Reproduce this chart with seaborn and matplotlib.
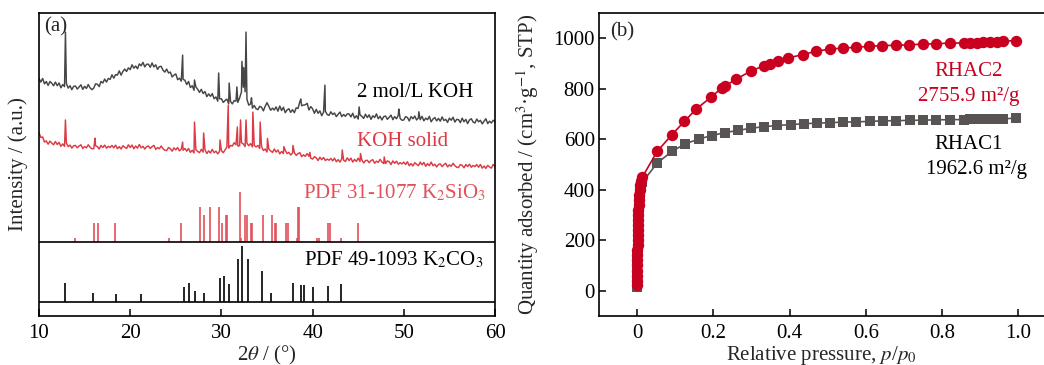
import numpy as np
import matplotlib
matplotlib.use("Agg")
import matplotlib.pyplot as plt
import seaborn as sns

# ---------------- (a) XRD patterns ----------------
two_theta = np.round(np.arange(10.0, 60.01, 0.2), 1)

# 2 mol/L KOH activated sample, background-subtracted intensity (a.u.)
koh_2m = [
    18.4, 17.2, 18.4, 16.6, 17.4, 16.1, 17.4, 16.8, 16.0, 17.2,
    16.0, 16.9, 15.3, 16.4, 15.7, 16.8, 15.2, 16.0, 14.7, 15.8,
    15.9, 14.9, 15.6, 16.3, 14.8, 15.8, 15.1, 16.4, 15.3, 14.7,
    15.2, 16.6, 16.5, 15.7, 17.4, 16.9, 18.2, 17.2, 18.4, 18.1,
    19.6, 18.5, 19.7, 19.5, 20.9, 19.5, 20.7, 21.5, 20.7, 21.9,
    21.3, 22.9, 21.8, 22.5, 21.6, 23.2, 22.6, 23.7, 22.2, 23.1,
    23.1, 22.1, 23.5, 22.2, 22.9, 21.4, 22.3, 22.4, 21.1, 20.5,
    21.5, 20.2, 20.5, 18.9, 19.5, 19.9, 18.0, 18.5, 17.5, 18.1,
    17.8, 16.4, 17.4, 15.4, 16.0, 14.5, 15.6, 14.8, 13.8, 14.8,
    13.4, 14.1, 12.4, 13.3, 12.5, 13.4, 11.7, 12.3, 10.9, 11.7,
    11.7, 10.5, 11.1, 11.6, 10.0, 10.8, 10.0, 11.1, 10.9, 10.5,
    12.0, 14.0, 15.5, 14.0, 11.5, 9.6, 10.0, 8.6, 9.5, 8.4,
    8.1, 9.2, 8.9, 7.7, 9.2, 10.4, 9.2, 7.9, 8.6, 8.0,
    9.0, 7.6, 9.3, 7.8, 8.9, 7.1, 8.0, 8.4, 7.2, 8.1,
    7.1, 8.7, 8.5, 10.7, 9.4, 9.6, 9.7, 10.2, 8.0, 9.1,
    8.4, 6.9, 8.2, 6.9, 7.7, 6.1, 7.2, 7.6, 6.5, 6.2,
    7.4, 6.5, 7.0, 5.8, 6.6, 7.3, 5.8, 6.5, 5.9, 6.7,
    6.7, 5.7, 6.9, 5.3, 6.1, 5.0, 6.4, 5.9, 5.2, 6.6,
    5.5, 6.4, 4.9, 6.1, 5.5, 6.7, 5.1, 5.9, 4.7, 5.8,
    6.0, 4.9, 5.6, 6.3, 4.8, 5.8, 5.1, 6.3, 5.2, 4.6,
    4.7, 5.8, 5.5, 4.4, 5.8, 5.1, 6.0, 4.7, 5.4, 4.8,
    5.9, 4.4, 5.3, 4.8, 5.9, 4.1, 5.0, 5.5, 4.4, 5.2,
    4.3, 5.7, 4.5, 4.9, 3.9, 5.3, 4.6, 5.6, 4.0, 4.9,
    4.8, 3.8, 5.3, 4.1, 4.9, 3.5, 4.7, 5.1, 4.0, 3.7,
    5.0, 4.1, 4.6, 3.4, 4.3, 5.1, 3.5, 4.3, 3.7, 4.6,
    4.1,
]
koh_2m_peak_pos = [12.9, 25.75, 27.05, 29.7, 30.85, 31.7, 32.25, 32.45, 32.7,
                   33.3, 38.7, 41.35, 45.1, 49.45, 51.65]
koh_2m_peak_int = [33.7, 26.1, 17.9, 20.2, 16.9, 15.6, 24.0, 22.0, 33.7,
                   12.0, 11.6, 16.2, 9.0, 8.3, 7.4]

# KOH solid activated sample
koh_solid = [
    15.5, 13.9, 14.1, 12.4, 12.8, 11.7, 12.7, 12.1, 11.5, 12.6,
    11.6, 12.3, 11.0, 11.8, 11.0, 12.1, 10.9, 11.4, 10.4, 11.2,
    11.3, 10.5, 11.1, 11.5, 10.3, 10.9, 10.5, 11.5, 10.7, 10.2,
    10.2, 11.2, 10.9, 10.1, 11.3, 10.6, 11.4, 10.4, 11.0, 10.6,
    11.3, 10.5, 11.4, 10.2, 10.9, 10.1, 11.2, 10.7, 10.3, 11.5,
    10.6, 11.4, 10.2, 11.1, 10.4, 11.6, 10.5, 11.0, 10.1, 10.9,
    11.1, 10.3, 10.9, 11.3, 10.0, 10.6, 10.2, 11.1, 10.2, 9.7,
    9.6, 10.6, 10.2, 9.4, 10.5, 9.8, 10.6, 9.5, 10.1, 9.7,
    10.3, 9.4, 10.3, 9.0, 9.7, 8.8, 9.9, 9.3, 8.9, 10.0,
    9.1, 9.9, 8.6, 9.5, 8.8, 10.0, 8.9, 9.4, 8.5, 9.4,
    9.6, 8.9, 9.8, 10.8, 10.4, 11.3, 11.1, 12.2, 11.5, 11.1,
    11.2, 12.2, 11.8, 10.9, 12.0, 11.2, 11.9, 10.8, 11.3, 10.8,
    11.3, 10.3, 11.0, 9.6, 10.1, 9.1, 10.1, 9.5, 9.0, 10.1,
    9.1, 9.8, 8.5, 9.3, 8.6, 9.7, 8.6, 9.0, 8.1, 8.8,
    8.9, 8.0, 8.6, 8.9, 7.6, 8.2, 7.7, 8.6, 7.7, 7.1,
    6.8, 7.6, 7.2, 6.3, 7.4, 6.6, 7.3, 6.3, 6.8, 6.4,
    7.0, 6.2, 7.1, 5.9, 6.6, 5.8, 6.9, 6.4, 6.0, 7.2,
    6.3, 7.1, 5.8, 6.7, 6.0, 7.1, 6.0, 6.5, 5.5, 6.3,
    6.4, 5.6, 6.3, 6.6, 5.4, 6.1, 5.7, 6.7, 5.8, 5.3,
    5.3, 6.2, 5.9, 5.0, 6.2, 5.4, 6.1, 5.1, 5.6, 5.2,
    5.8, 5.0, 5.9, 4.6, 5.3, 4.5, 5.6, 5.1, 4.6, 5.8,
    4.9, 5.7, 4.4, 5.3, 4.6, 5.8, 4.6, 5.1, 4.2, 5.0,
    5.2, 4.3, 5.0, 5.4, 4.2, 4.9, 4.4, 5.4, 4.6, 4.1,
    4.0, 5.0, 4.7, 3.9, 5.0, 4.3, 5.1, 4.1, 4.7, 4.3,
    5.0, 4.1, 5.0, 3.8, 4.5, 3.7, 4.7, 4.2, 3.8, 5.0,
    4.3,
]
koh_solid_peak_pos = [12.9, 16.15, 25.75, 27.05, 28.05, 29.85, 30.75, 31.75, 32.1,
                      32.7, 33.45, 34.25, 35.05, 36.85, 37.85, 39.7, 43.25, 45.25, 47.85]
koh_solid_peak_int = [19.7, 13.7, 12.4, 19.0, 15.4, 13.1, 24.6, 17.4, 19.7,
                      19.7, 22.3, 19.0, 13.6, 10.9, 11.3, 9.0, 9.8, 8.6, 7.5]

# Reference cards (relative intensity, %)
k2sio3_pos = [13.9, 16.0, 16.5, 18.3, 24.2, 25.6, 27.65, 28.1, 28.8, 29.75, 30.1,
              30.5, 30.6, 32.0, 32.2, 32.6, 32.8, 33.2, 33.35, 34.6, 35.5, 35.9,
              36.0, 37.05, 37.3, 38.3, 38.45, 38.55, 40.45, 40.65, 41.7, 41.95,
              43.1, 44.95]
k2sio3_int = [8, 38, 38, 38, 8, 38, 70, 54, 70, 70, 38,
              54, 54, 100, 8, 54, 54, 38, 38, 54, 54, 38,
              38, 38, 38, 8, 70, 70, 8, 8, 38, 38,
              8, 38]
k2co3_pos = [12.85, 15.95, 18.4, 21.15, 25.85, 26.45, 27.1, 28.05, 29.9, 30.3,
             30.85, 31.8, 32.3, 32.9, 34.4, 35.4, 37.9, 38.75, 39.05, 40.0,
             41.7, 43.15]
k2co3_int = [34, 16, 15, 15, 26, 34, 19, 16, 43, 46,
             33, 77, 100, 77, 55, 16, 34, 31, 31, 26,
             29, 33]

# ---------------- (b) N2 adsorption isotherms ----------------
rhac2_p = [0.0002, 0.0003, 0.0004, 0.0005, 0.0006, 0.0007, 0.0008, 0.0009, 0.0010,
           0.0012, 0.0014, 0.0016, 0.0019, 0.0022, 0.0026, 0.0030, 0.0036, 0.0043,
           0.0052, 0.0064, 0.0080, 0.0100, 0.0130,
           0.0525, 0.091, 0.124, 0.155, 0.194, 0.222, 0.231, 0.260, 0.299, 0.333,
           0.348, 0.370, 0.396, 0.434, 0.468, 0.505, 0.539, 0.573, 0.609, 0.643,
           0.678, 0.714, 0.750, 0.785, 0.820, 0.856, 0.873, 0.890, 0.908, 0.925,
           0.943, 0.960, 0.993]
rhac2_q = [22, 40, 60, 80, 100, 120, 140, 160, 180,
           200, 220, 240, 260, 280, 300, 320, 340, 360,
           380, 400, 420, 435, 448,
           551, 617, 670, 719, 766, 802, 811, 837, 870, 890,
           898, 910, 921, 934, 947, 956, 960, 963, 967, 970,
           971, 973, 976, 977, 980, 980, 981, 982, 983, 985,
           986, 987, 990]

rhac1_p = [0.0002, 0.0003, 0.0004, 0.0005, 0.0006, 0.0007, 0.0008, 0.0009, 0.0010,
           0.0012, 0.0014, 0.0016, 0.0019, 0.0022, 0.0026, 0.0030, 0.0036, 0.0043,
           0.0052, 0.0064, 0.0080, 0.0100, 0.0140,
           0.0525, 0.091, 0.126, 0.161, 0.196, 0.231, 0.264, 0.298, 0.333, 0.368,
           0.403, 0.438, 0.473, 0.505, 0.539, 0.575, 0.610, 0.645, 0.680, 0.715,
           0.750, 0.785, 0.820, 0.856, 0.873, 0.890, 0.908, 0.925, 0.943, 0.960,
           0.993]
rhac1_q = [15, 30, 48, 66, 84, 102, 120, 138, 156,
           176, 196, 214, 234, 254, 274, 292, 312, 332,
           352, 372, 392, 410, 430,
           505, 551, 581, 600, 614, 626, 634, 643, 649, 654,
           657, 661, 663, 665, 667, 668, 670, 672, 673, 674,
           675, 676, 677, 677, 678, 678, 679, 679, 680, 680,
           683]

# ---------------- style ----------------
sns.set_theme(style="ticks")
plt.rcParams["font.family"] = ["Liberation Serif", "DejaVu Serif"]
plt.rcParams["mathtext.fontset"] = "stix"
plt.rcParams["axes.linewidth"] = 1.2
plt.rcParams["xtick.direction"] = "in"
plt.rcParams["ytick.direction"] = "in"
plt.rcParams["xtick.major.size"] = 5
plt.rcParams["ytick.major.size"] = 5
plt.rcParams["xtick.major.width"] = 1.1
plt.rcParams["ytick.major.width"] = 1.1
plt.rcParams["xtick.color"] = "black"
plt.rcParams["ytick.color"] = "black"
plt.rcParams["axes.edgecolor"] = "black"

FS = 15
DARK = "#454545"
RED_CURVE = "#dc3a44"
RED_STICK = "#e2505a"
RED_ISO = "#c9001f"
GRAY_ISO = "#585454"

fig = plt.figure(figsize=(10.44, 3.65), dpi=100)
ax1 = fig.add_axes([39 / 1044, 49 / 365, 456 / 1044, 303 / 365])
ax2 = fig.add_axes([599 / 1044, 49 / 365, 445 / 1044, 303.3 / 365])

# offsets that stack the patterns in panel (a)
OFF_2M, OFF_SOLID = 60.0, 45.0
BASE_SIO3, BASE_CO3 = 24.4, 4.6
SCALE_SIO3, SCALE_CO3 = 16.5 / 100, 18.5 / 100


def merged(x, y, px, py):
    xs = np.concatenate([x, px])
    ys = np.concatenate([y, py])
    order = np.argsort(xs)
    return xs[order], ys[order]


x2m, y2m = merged(two_theta, np.array(koh_2m), np.array(koh_2m_peak_pos), np.array(koh_2m_peak_int))
xso, yso = merged(two_theta, np.array(koh_solid), np.array(koh_solid_peak_pos), np.array(koh_solid_peak_int))

sns.lineplot(x=x2m, y=y2m + OFF_2M, ax=ax1, color=DARK, lw=1.05, sort=False, estimator=None)
sns.lineplot(x=xso, y=yso + OFF_SOLID, ax=ax1, color=RED_CURVE, lw=1.05, sort=False, estimator=None)

ax1.vlines(k2sio3_pos, BASE_SIO3, BASE_SIO3 + np.array(k2sio3_int) * SCALE_SIO3,
           colors=RED_STICK, lw=1.2)
ax1.vlines(k2co3_pos, BASE_CO3, BASE_CO3 + np.array(k2co3_int) * SCALE_CO3,
           colors="black", lw=1.2)
ax1.axhline(BASE_SIO3, color="black", lw=1.2)
ax1.axhline(BASE_CO3, color="black", lw=1.2)

ax1.set_xlim(10, 60)
ax1.set_ylim(0, 100)
ax1.set_xticks([10, 20, 30, 40, 50, 60])
ax1.set_yticks([])
ax1.tick_params(axis="x", labelsize=FS, pad=6, top=False)
ax1.set_xlabel(r"2$\theta$ / (°)", fontsize=FS, va="center")
ax1.xaxis.set_label_coords(0.5, -0.13)
ax1.set_ylabel("Intensity / (a.u.)", fontsize=FS, va="center")
ax1.yaxis.set_label_coords(-0.046, 0.5)
for s in ax1.spines.values():
    s.set_visible(True)
    s.set_color("black")

ax1.text(10.6, 95.4, "(a)", fontsize=FS, ha="left", va="center")
ax1.text(57.6, 73.6, "2 mol/L KOH", fontsize=FS, ha="right", va="center", color="black")
ax1.text(54.85, 57.5, "KOH solid", fontsize=FS, ha="right", va="center", color=RED_CURVE)
ax1.text(59.0, 40.5, r"PDF 31-1077 K$_2$SiO$_3$", fontsize=FS, ha="right", va="center",
         color=RED_STICK)
ax1.text(58.7, 18.5, r"PDF 49-1093 K$_2$CO$_3$", fontsize=FS, ha="right", va="center",
         color="black")

# panel (b)
sns.lineplot(x=rhac1_p, y=rhac1_q, ax=ax2, color=GRAY_ISO, lw=1.2, marker="s",
             markersize=7.2, markeredgewidth=0, sort=False, estimator=None)
sns.lineplot(x=rhac2_p, y=rhac2_q, ax=ax2, color=RED_ISO, lw=1.2, marker="o",
             markersize=8.2, markeredgewidth=0, sort=False, estimator=None)

ax2.set_xlim(-0.1, 1.067)
ax2.set_ylim(-100, 1100)
ax2.set_xticks([0, 0.2, 0.4, 0.6, 0.8, 1.0])
ax2.set_xticklabels(["0", "0.2", "0.4", "0.6", "0.8", "1.0"])
ax2.set_yticks([0, 200, 400, 600, 800, 1000])
ax2.tick_params(axis="x", labelsize=FS, pad=6)
ax2.tick_params(axis="y", labelsize=FS, pad=3)
ax2.spines["right"].set_visible(False)
ax2.spines["top"].set_visible(True)
ax2.set_xlabel(r"Relative pressure, $p$/$p_0$", fontsize=FS, va="center")
ax2.xaxis.set_label_coords(0.5, -0.13)
ax2.set_ylabel(r"Quantity adsorbed / (cm$^3$·g$^{-1}$, STP)", fontsize=FS, va="center")
ax2.yaxis.set_label_coords(-0.161, 0.5)

ax2.text(-0.072, 1026, "(b)", fontsize=FS, ha="left", va="center")
ax2.text(0.870, 866, "RHAC2", fontsize=FS, ha="center", va="center", color=RED_ISO)
ax2.text(0.870, 767, "2755.9 m²/g", fontsize=FS, ha="center", va="center", color=RED_ISO)
ax2.text(0.870, 577, "RHAC1", fontsize=FS, ha="center", va="center", color="black")
ax2.text(0.891, 478, "1962.6 m²/g", fontsize=FS, ha="center", va="center", color="black")

fig.savefig("out.png", dpi=100)
